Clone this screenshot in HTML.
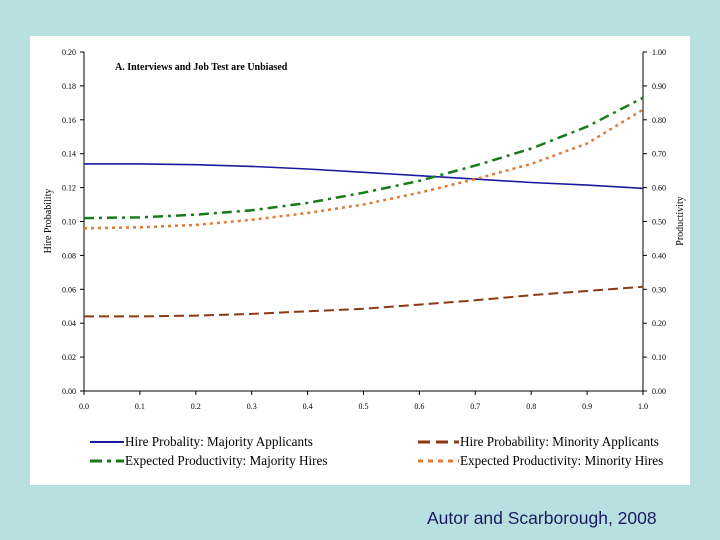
<!DOCTYPE html>
<html><head><meta charset="utf-8"><style>
body{margin:0;background:#b9e0e1;width:720px;height:540px;overflow:hidden;font-family:"Liberation Serif",serif}
svg{position:absolute;left:0;top:0}
</style></head><body>
<svg width="720" height="540">
<rect x="30" y="36" width="660" height="449" fill="#fff"/>
<g id="axes"></g><g id="series"></g>
<text x="115" y="70" font-size="10" font-weight="bold">A. Interviews and Job Test are Unbiased</text>
<text transform="translate(51,221) rotate(-90)" text-anchor="middle" font-size="10">Hire Probability</text>
<text transform="translate(683,221) rotate(-90)" text-anchor="middle" font-size="10">Productivity</text>
<g font-size="13.2">
<line x1="90" y1="442" x2="124" y2="442" stroke="#1a1aa0" stroke-width="2"/><text x="125" y="446">Hire Probality: Majority Applicants</text>
<line x1="90" y1="461" x2="124" y2="461" stroke="#1a7a1a" stroke-width="3" stroke-dasharray="12,5,4,5"/><text x="125" y="465">Expected Productivity: Majority Hires</text>
<line x1="418" y1="442" x2="459" y2="442" stroke="#8b3a12" stroke-width="3" stroke-dasharray="12,6"/><text x="460" y="446">Hire Probability: Minority Applicants</text>
<line x1="418" y1="461" x2="459" y2="461" stroke="#e07a35" stroke-width="3" stroke-dasharray="5,5"/><text x="460" y="465">Expected Productivity: Minority Hires</text>
</g>
<text x="427" y="524" font-family="Liberation Sans, sans-serif" font-size="17.5" fill="#1a1a60">Autor and Scarborough, 2008</text>
</svg>
<script>
const xs=[0,0.1,0.2,0.3,0.4,0.5,0.6,0.7,0.8,0.9,1.0];
const hireMajority=[0.134,0.134,0.1335,0.1325,0.131,0.129,0.127,0.125,0.123,0.1215,0.1195];
const hireMinority=[0.044,0.044,0.0445,0.0455,0.047,0.0485,0.051,0.0535,0.0565,0.059,0.0615];
const prodMajority=[0.51,0.512,0.52,0.533,0.555,0.585,0.62,0.665,0.715,0.78,0.865];
const prodMinority=[0.48,0.483,0.49,0.505,0.525,0.55,0.585,0.625,0.67,0.73,0.83];
const leftTicks=["0.00","0.02","0.04","0.06","0.08","0.10","0.12","0.14","0.16","0.18","0.20"];
const rightTicks=["0.00","0.10","0.20","0.30","0.40","0.50","0.60","0.70","0.80","0.90","1.00"];
const xTicks=["0.0","0.1","0.2","0.3","0.4","0.5","0.6","0.7","0.8","0.9","1.0"];
const X0=84,X1=643,Y0=391,Y1=52;
const sx=v=>X0+v*(X1-X0);
const syL=v=>Y0-v/0.2*(Y0-Y1);
const syR=v=>Y0-v*(Y0-Y1);
const NS="http://www.w3.org/2000/svg";
function mk(t,a,p){const e=document.createElementNS(NS,t);for(const k in a)e.setAttribute(k,a[k]);p.appendChild(e);return e;}
const ax=document.getElementById('axes');
let l=mk('line',{x1:X0,y1:Y1,x2:X0,y2:Y0,stroke:'#000'},ax);


l=mk('line',{x1:X1,y1:Y1,x2:X1,y2:Y0,stroke:'#000'},ax);


l=mk('line',{x1:X0-4,y1:Y0,x2:X1+4,y2:Y0,stroke:'#000'},ax);


leftTicks.forEach((t,i)=>{const y=syL(parseFloat(t));
mk('line',{x1:X0-4,y1:y,x2:X0,y2:y,stroke:'#000'},ax);
const tx=mk('text',{x:X0-8,y:y+3,'text-anchor':'end','font-size':8},ax);tx.textContent=t;

});
rightTicks.forEach((t,i)=>{const y=syR(parseFloat(t));
mk('line',{x1:X1,y1:y,x2:X1+4,y2:y,stroke:'#000'},ax);
const tx=mk('text',{x:X1+9,y:y+3,'font-size':8},ax);tx.textContent=t;

});
xTicks.forEach(t=>{const x=sx(parseFloat(t));
mk('line',{x1:x,y1:Y0,x2:x,y2:Y0+4,stroke:'#000'},ax);
const tx=mk('text',{x:x,y:Y0+18,'text-anchor':'middle','font-size':8},ax);tx.textContent=t;

});
const sg=document.getElementById('series');
function line(vals,sy,col,w,dash,name){
const d=vals.map((v,i)=>(i?'L':'M')+sx(xs[i]).toFixed(1)+','+sy(v).toFixed(1)).join('');
const p=mk('path',{d:d,fill:'none',stroke:col,'stroke-width':w,'stroke-dasharray':dash},sg);

}
line(hireMajority,syL,'#1a1aa0',1.6,'none','series-hire-majority');
line(hireMinority,syL,'#8b3a12',2,'10,5','series-hire-minority');
line(prodMajority,syR,'#1a7a1a',2.5,'10,5,3,5','series-productivity-majority');
line(prodMinority,syR,'#e07a35',2.5,'3,4','series-productivity-minority');
</script>
</body></html>
